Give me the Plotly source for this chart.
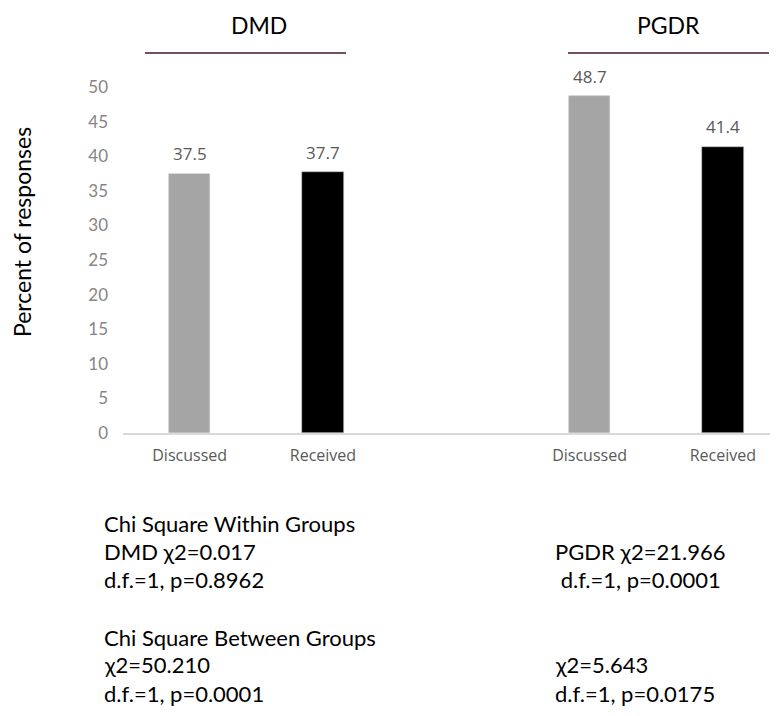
import plotly.graph_objects as go

# ---- data ----
categories = ["Discussed", "Received", "Discussed", "Received"]
x_positions = [0, 1, 3, 4]
values = [37.5, 37.7, 48.7, 41.4]
bar_colors = ["#a5a5a5", "#000000", "#a5a5a5", "#000000"]
y_ticks = [0, 5, 10, 15, 20, 25, 30, 35, 40, 45, 50]
group_names = ["DMD", "PGDR"]

left_lines = ["Chi Square Within Groups", "DMD \u03c72=0.017", "d.f.=1, p=0.8962",
              "Chi Square Between Groups", "\u03c72=50.210", "d.f.=1, p=0.0001"]
right_lines = ["PGDR \u03c72=21.966", "&nbsp;d.f.=1, p=0.0001", "\u03c72=5.643", "d.f.=1, p=0.0175"]

OFF = 8  # page body margin
W, H = 778 - OFF, 716 - OFF
ML, MT = 123 - OFF, 87 - OFF
PLOT_R, PLOT_B = 778 - OFF, 433 - OFF
MR, MB = W - PLOT_R, H - PLOT_B
PW, PH = W - ML - MR, H - MT - MB
UNIT = 133.3  # pixels per category slot

def px(x):
    return (x - OFF - ML) / PW

def py(y):
    return (PLOT_B - (y - OFF)) / PH

fig = go.Figure()
fig.add_trace(go.Bar(
    x=x_positions, y=values, width=0.31,
    marker=dict(color=bar_colors, line=dict(color="#c8c8c8", width=0.6)),
    showlegend=False, hoverinfo="x+y",
))
for xv, v in zip(x_positions, values):
    fig.add_annotation(x=xv, y=v, xref="x", yref="y", text=f"{v:.1f}", showarrow=False,
                       yanchor="middle", yshift=20,
                       font=dict(family="Open Sans", size=17, color="#595959"))

fig.update_layout(
    width=W, height=H,
    margin=dict(l=ML, r=MR, t=MT, b=MB),
    plot_bgcolor="white", paper_bgcolor="white",
    bargap=0,
    xaxis=dict(range=[-0.5, -0.5 + PW / UNIT], tickvals=x_positions, ticktext=categories,
               showgrid=False, zeroline=False, showline=True, linecolor="#d9d9d9",
               linewidth=1.5, ticks="", ticklabelstandoff=7,
               tickfont=dict(family="Open Sans", size=16, color="#595959")),
    yaxis=dict(range=[0, 50], tickvals=y_ticks, showgrid=False, zeroline=False,
               showline=False, ticks="", ticklabelstandoff=14,
               tickfont=dict(family="Lato", size=17, color="#858585")),
    font=dict(family="Lato"),
)

# group headers
group_centers = [259, 668]
group_lines = [(145, 346), (568, 769)]
for name, cx, (x0, x1) in zip(group_names, group_centers, group_lines):
    fig.add_annotation(x=px(cx), y=py(25), xref="paper", yref="paper", text=name,
                       xanchor="center", yanchor="middle", showarrow=False,
                       font=dict(family="Lato", size=23, color="#000000"))
    fig.add_shape(type="line", xref="paper", yref="paper", x0=px(x0), x1=px(x1),
                  y0=py(53), y1=py(53), line=dict(color="#4b1030", width=1.5))

# y title
fig.add_annotation(x=px(22), y=py(232), xref="paper", yref="paper", text="Percent of responses",
                   textangle=-90, xanchor="center", yanchor="middle", showarrow=False,
                   font=dict(family="Lato", size=23, color="#000000"))

# statistics text
left_y = [523, 551, 579, 637, 664, 693]
for t, yy in zip(left_lines, left_y):
    fig.add_annotation(x=px(102), y=py(yy), xref="paper", yref="paper", text=t,
                       xanchor="left", yanchor="middle", showarrow=False,
                       font=dict(family="Lato", size=22, color="#000000"))
right_y = [551, 579, 664, 693]
for t, yy in zip(right_lines, right_y):
    fig.add_annotation(x=px(553), y=py(yy), xref="paper", yref="paper", text=t,
                       xanchor="left", yanchor="middle", showarrow=False,
                       font=dict(family="Lato", size=22, color="#000000"))

fig.write_html("out.html")
